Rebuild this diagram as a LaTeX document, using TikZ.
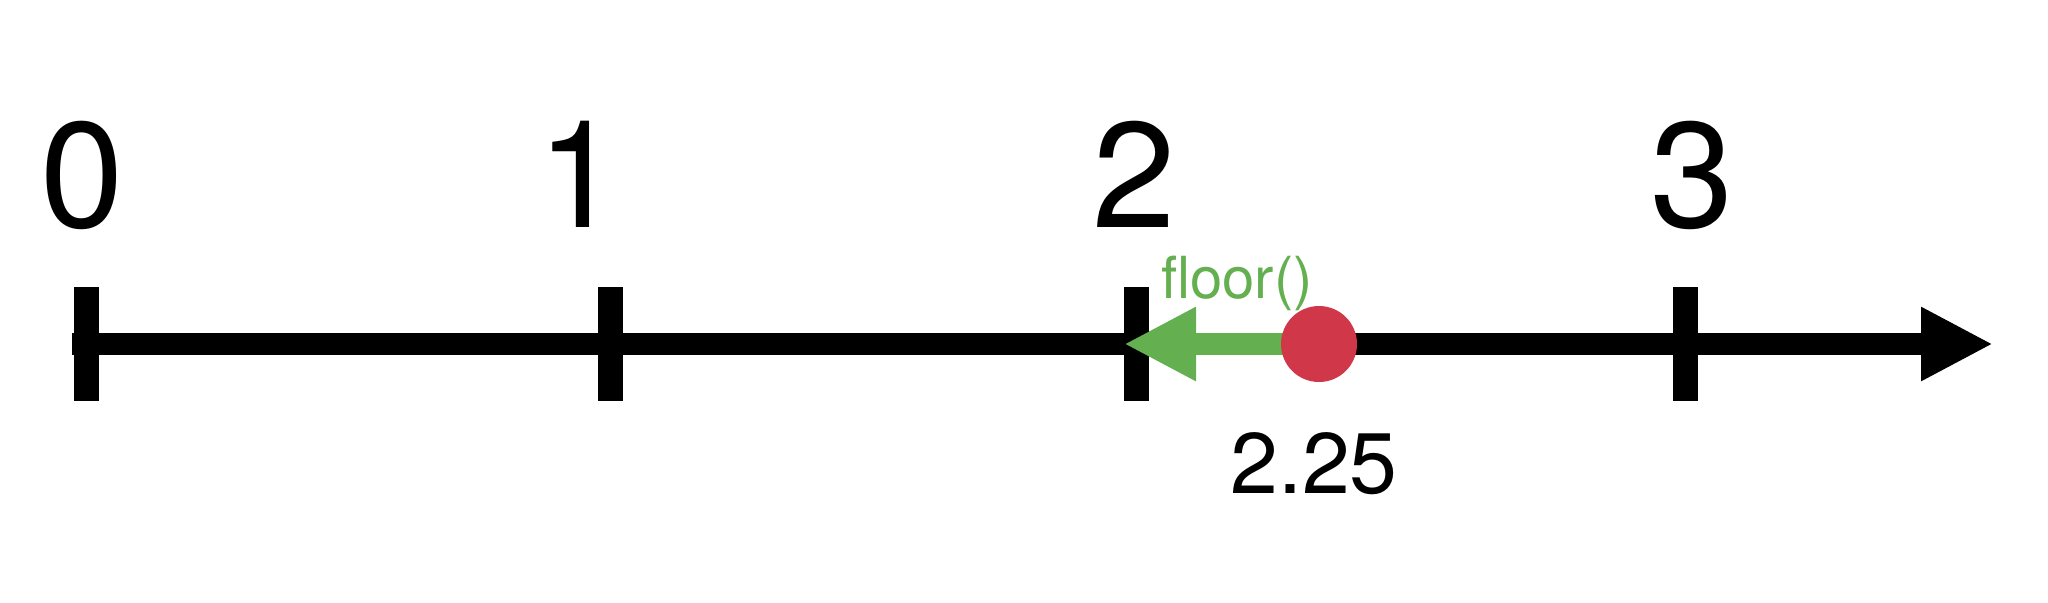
\documentclass[tikz,border=0pt]{standalone}
\usepackage{fontspec}
\setmainfont{TeX Gyre Heros}
\usetikzlibrary{arrows.meta}
\definecolor{floorgreen}{RGB}{100,175,80}
\definecolor{pointred}{RGB}{208,56,74}
\begin{document}
\begin{tikzpicture}[x=0.25pt,y=-0.25pt,
  axisline/.style={line width=5.5pt, line cap=butt},
  tickmark/.style={line width=6.25pt, line cap=butt},
  bigtip/.style={-{Triangle[length=18pt,width=17.25pt]}},
  ticklabel/.style={inner sep=0pt, anchor=base, font=\fontsize{37.5pt}{40pt}\selectfont},
  floorlabel/.style={inner sep=0pt, anchor=base, text=floorgreen, font=\fontsize{14.5pt}{16pt}\selectfont},
  valuelabel/.style={inner sep=0pt, anchor=base, font=\fontsize{21.5pt}{24pt}\selectfont},
  pointdot/.style={circle, fill=pointred, minimum size=19pt, inner sep=0pt}]
\useasboundingbox (0,0) rectangle (2048,602);
% axis
\coordinate (axisstart) at (72,344);
\coordinate (axisend) at (1993,344);
\draw[axisline, bigtip] (axisstart) -- (axisend);
% ticks
\coordinate (t0top) at (86,287);   \coordinate (t0bot) at (86,401);
\coordinate (t1top) at (610,287);  \coordinate (t1bot) at (610,401);
\coordinate (t2top) at (1136,287); \coordinate (t2bot) at (1136,401);
\coordinate (t3top) at (1685,287); \coordinate (t3bot) at (1685,401);
\draw[tickmark] (t0top) -- (t0bot);
\draw[tickmark] (t1top) -- (t1bot);
\draw[tickmark] (t2top) -- (t2bot);
\draw[tickmark] (t3top) -- (t3bot);
% tick labels
\node[ticklabel] (l0) at (82,227) {0};
\node[ticklabel] (l1) at (579,227) {1};
\node[ticklabel] (l2) at (1134,227) {2};
\node[ticklabel] (l3) at (1692,227) {3};
% floor arrow
\coordinate (ptc) at (1319,344);
\coordinate (floortip) at (1124,344);
\draw[floorgreen, axisline, bigtip] (ptc) -- (floortip);
\node[pointdot] (pt) at (ptc) {};
\node[floorlabel] (fl) at (1237,298) {floor()};
\node[valuelabel] (val) at (1314,493) {2.25};
\end{tikzpicture}
\end{document}
